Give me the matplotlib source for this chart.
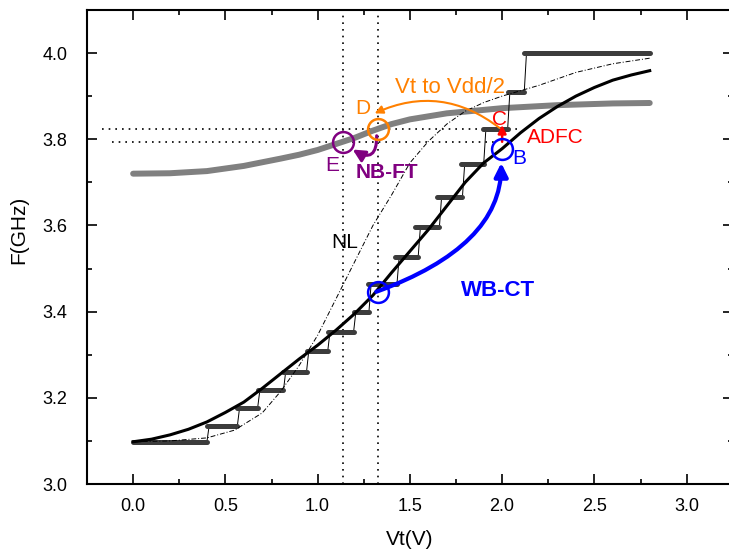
import matplotlib.pyplot as plt
from matplotlib.ticker import MultipleLocator

plt.rcParams['font.family'] = ['Liberation Sans', 'DejaVu Sans']

# gray curve (fine tuning range)
gray_x = [0, 0.2, 0.4, 0.6, 0.8, 0.9, 1.0, 1.1, 1.2, 1.3, 1.4, 1.5, 1.7, 2.0, 2.3, 2.6, 2.8]
gray_y = [3.720, 3.721, 3.726, 3.738, 3.755, 3.764, 3.775, 3.789, 3.803, 3.820,
          3.835, 3.846, 3.860, 3.872, 3.879, 3.883, 3.884]

# black curve (linearized)
blk_x = [0, 0.1, 0.2, 0.3, 0.4, 0.5, 0.6, 0.7, 0.8, 0.9, 1.0, 1.1, 1.2, 1.3, 1.4,
         1.5, 1.6, 1.7, 1.8, 1.9, 2.0, 2.1, 2.2, 2.3, 2.4, 2.5, 2.6, 2.7, 2.8]
blk_y = [3.098, 3.104, 3.114, 3.127, 3.144, 3.166, 3.190, 3.222, 3.256, 3.290,
         3.322, 3.357, 3.395, 3.438, 3.490, 3.540, 3.590, 3.645, 3.700, 3.745,
         3.778, 3.815, 3.848, 3.876, 3.900, 3.920, 3.937, 3.949, 3.959]

# dash-dot curve (NL)
nl_x = [0, 0.2, 0.4, 0.55, 0.7, 0.8, 0.9, 1.0, 1.1, 1.2, 1.3, 1.4, 1.5, 1.6, 1.7,
        1.8, 1.9, 2.0, 2.2, 2.4, 2.6, 2.8]
nl_y = [3.098, 3.100, 3.107, 3.125, 3.165, 3.215, 3.275, 3.345, 3.430, 3.515,
        3.600, 3.670, 3.745, 3.795, 3.835, 3.865, 3.885, 3.900, 3.925, 3.955,
        3.975, 3.988]

# coarse tuning steps
step_left = [0.0, 0.40, 0.565, 0.675, 0.815, 0.94, 1.055, 1.195, 1.275, 1.42,
             1.53, 1.645, 1.775, 1.895, 2.03, 2.12]
step_right = [0.40, 0.565, 0.675, 0.815, 0.94, 1.055, 1.195, 1.278, 1.43, 1.545,
              1.66, 1.785, 1.90, 2.03, 2.12, 2.8]
step_level = [3.098, 3.135, 3.177, 3.218, 3.261, 3.309, 3.353, 3.399, 3.464, 3.527,
              3.596, 3.667, 3.742, 3.824, 3.910, 4.000]

# reference lines
vline_x = [1.14, 1.325]
hline_y = [3.824, 3.794]
hline_x0 = [-0.17, -0.116]
hline_x1 = [2.10, 1.96]

# circles
circ_x = [1.14, 1.325, 2.0, 1.325]
circ_y = [3.794, 3.824, 3.778, 3.446]
circ_c = ['#800080', '#ff8000', '#0000ff', '#0000ff']

fig = plt.figure(figsize=(7.29, 5.52), dpi=100)
ax = fig.add_axes([87 / 729, 68 / 552, 3.5 * 184.5 / 729, 1.1 * 431 / 552])

ax.plot(gray_x, gray_y, color='#808080', lw=4.3, solid_capstyle='round', zorder=2)

# thin connectors between steps
cx, cy = [], []
for i in range(len(step_level) - 1):
    cx += [step_right[i], step_right[i] + 0.012, None]
    cy += [step_level[i], step_level[i + 1], None]
ax.plot(cx, cy, color='black', lw=0.7, zorder=3)
for i in range(len(step_level)):
    ax.plot([step_left[i], step_right[i]], [step_level[i], step_level[i]],
            color='#3c3c3c', lw=3.6, solid_capstyle='round', zorder=3)

ax.plot(nl_x, nl_y, color='black', lw=0.7, ls=(0, (5, 2, 1, 2)), zorder=4)
ax.plot(blk_x, blk_y, color='black', lw=2.2, zorder=5)

for x in vline_x:
    ax.axvline(x, color='black', lw=1.2, ls=(0, (1, 3)), zorder=1)
ax.hlines(hline_y, hline_x0, hline_x1, color='black', lw=1.2, ls=(0, (1, 3)), zorder=1)

for x, y, c in zip(circ_x, circ_y, circ_c):
    ax.plot(x, y, 'o', ms=15, mfc='none', mec=c, mew=1.8, zorder=7)

# arrows
ax.annotate('', xy=(1.995, 3.745), xytext=(1.318, 3.446),
            arrowprops=dict(arrowstyle='-|>', color='#0000ff', lw=3, mutation_scale=20,
                            shrinkA=0, shrinkB=0,
                            connectionstyle='angle3,angleA=20,angleB=90'), zorder=6)
ax.annotate('', xy=(2.0, 3.833), xytext=(2.0, 3.794),
            arrowprops=dict(arrowstyle='-|>', color='#ff0000', lw=1.8, mutation_scale=12,
                            shrinkA=0, shrinkB=0), zorder=6)
ax.annotate('', xy=(1.309, 3.86), xytext=(1.986, 3.826),
            arrowprops=dict(arrowstyle='-|>', color='#ff8000', lw=1.5, mutation_scale=12,
                            shrinkA=0, shrinkB=0, connectionstyle='arc3,rad=0.3'), zorder=6)
ax.annotate('', xy=(1.19, 3.776), xytext=(1.32, 3.808),
            arrowprops=dict(arrowstyle='-|>', color='#800080', lw=2.2, mutation_scale=18,
                            shrinkA=0, shrinkB=0, connectionstyle='arc3,rad=-0.9'), zorder=6)

# labels
ax.text(1.081, 3.740, 'E', color='#800080', fontsize=15, ha='center', va='center')
ax.text(1.244, 3.872, 'D', color='#ff8000', fontsize=15, ha='center', va='center')
ax.text(1.374, 3.722, 'NB-FT', color='#800080', fontsize=15, fontweight='bold',
        ha='center', va='center')
ax.text(1.976, 3.450, 'WB-CT', color='#0000ff', fontsize=16, fontweight='bold',
        ha='center', va='center')
ax.text(2.095, 3.756, 'B', color='#0000ff', fontsize=15, ha='center', va='center')
ax.text(1.987, 3.845, 'C', color='#ff0000', fontsize=15, ha='center', va='center')
ax.text(2.29, 3.805, 'ADFC', color='#ff0000', fontsize=15, ha='center', va='center')
ax.text(1.146, 3.561, 'NL', color='black', fontsize=15, ha='center', va='center')
ax.text(1.715, 3.921, 'Vt to Vdd/2', color='#ff8000', fontsize=16, ha='center', va='center')

ax.set_xlim(-0.25, 3.25)
ax.set_ylim(3.0, 4.1)
ax.set_xticks([0.0, 0.5, 1.0, 1.5, 2.0, 2.5, 3.0])
ax.set_yticks([3.0, 3.2, 3.4, 3.6, 3.8, 4.0])
ax.xaxis.set_minor_locator(MultipleLocator(0.25))
ax.yaxis.set_minor_locator(MultipleLocator(0.1))
ax.tick_params(which='both', direction='in', top=True, right=True, width=1.2)
ax.tick_params(which='major', length=7)
ax.tick_params(which='minor', length=3.5)
ax.tick_params(axis='x', pad=10)
ax.tick_params(axis='y', pad=14)
ax.tick_params(labelsize=13)
for s in ax.spines.values():
    s.set_linewidth(1.5)

ax.set_xlabel('Vt(V)', fontsize=15)
ax.set_ylabel('F(GHz)', fontsize=15)
ax.xaxis.set_label_coords(0.5, -0.098)
ax.yaxis.set_label_coords(-0.0914, 0.535)

fig.savefig('out.png', dpi=100)
